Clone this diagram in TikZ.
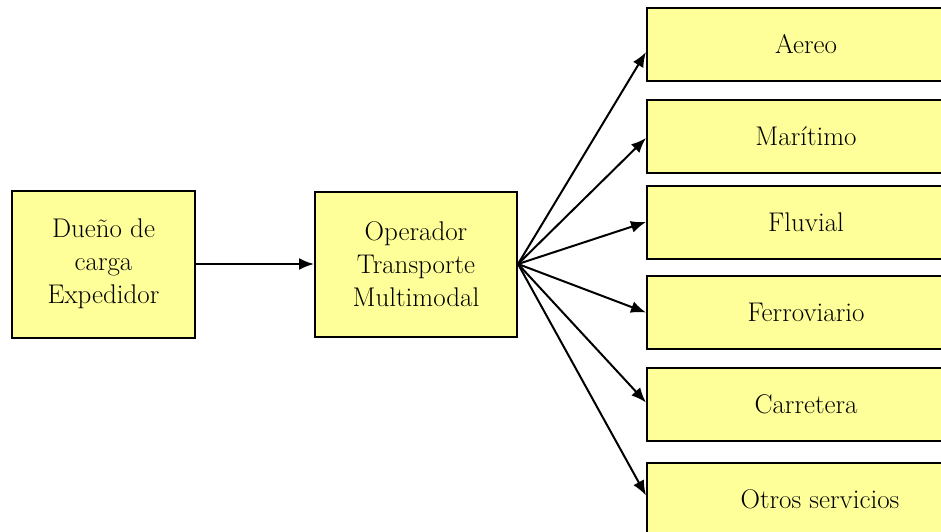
\documentclass[tikz,border=0pt]{standalone}
\usepackage{tikz}
\usetikzlibrary{arrows.meta}
\definecolor{amarillo}{HTML}{FFFF99}

\begin{document}
\begin{tikzpicture}[x=1pt, y=-1pt, main/.style = {draw, fill=amarillo, line width=2pt, align=center, font=\fontsize{27}{33}\selectfont}, modo/.style = {main, minimum width=318pt, minimum height=73pt}, flecha/.style = {-{Latex[length=15pt, width=12pt]}, line width=2pt}]
		\useasboundingbox (0,0) rectangle (941,531);
		\clip (0,0) rectangle (941,531);
		\node[main, minimum width=183pt, minimum height=147pt] (1) at (103.5,264) {Dueño de\\carga\\Expedidor};
		\node[main, minimum width=202pt, minimum height=145pt] (2) at (416,264) {Operador\\Transporte\\Multimodal};
		\node[modo] (a) at (806,44) {Aereo};
		\node[modo] (b) at (806,136) {Marítimo};
		\node[modo] (c) at (806,222) {Fluvial};
		\node[modo] (d) at (806,312.5) {Ferroviario};
		\node[modo] (e) at (806,404.5) {Carretera};
		\node[modo] (f) at (820,499.5) [minimum width=346pt] {Otros servicios};
		\draw[flecha] (1) -- (2);
		\draw[flecha] (2.east) -- ([yshift=-8pt]a.west);
		\draw[flecha] (2.east) -- ([yshift=-2pt]b.west);
		\draw[flecha] (2.east) -- (c.west);
		\draw[flecha] (2.east) -- (d.west);
		\draw[flecha] (2.east) -- ([yshift=2pt]e.west);
		\draw[flecha] (2.east) -- ([yshift=4pt]f.west);
	\end{tikzpicture}
\end{document}
